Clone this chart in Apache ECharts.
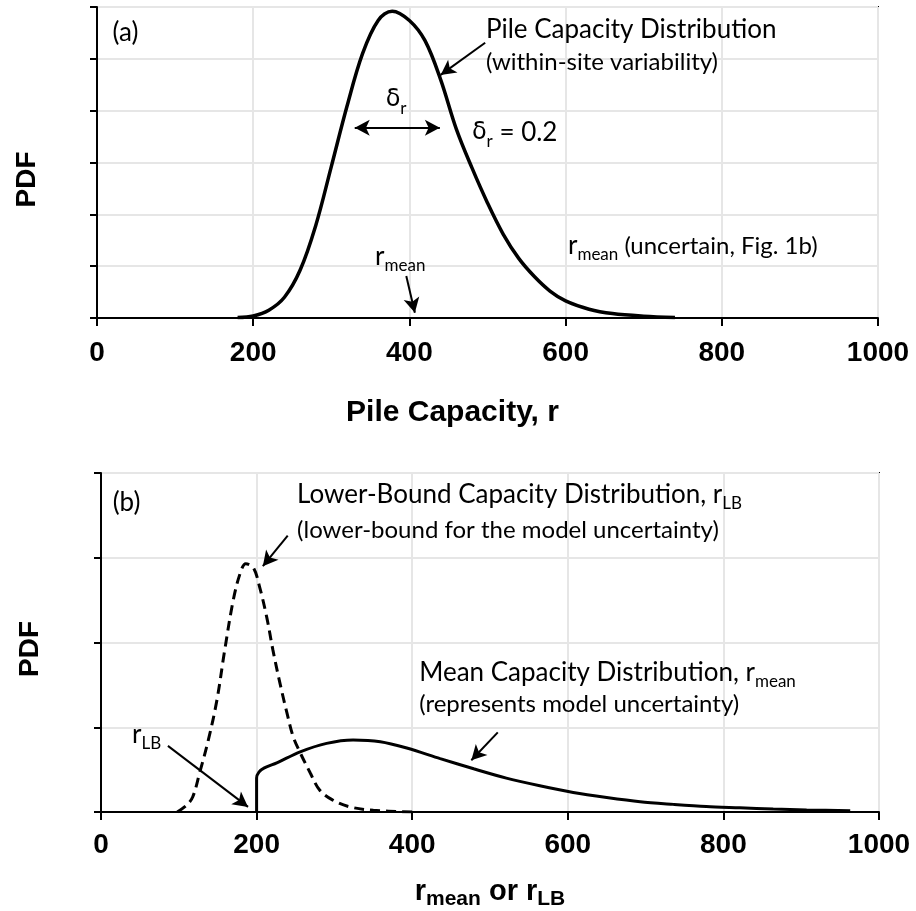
<!DOCTYPE html>
<html>
<head>
<meta charset="utf-8">
<script src="https://cdn.jsdelivr.net/npm/echarts@6/dist/echarts.min.js"></script>
<style>
  html, body { margin: 0; padding: 0; background: #fff; }
  #chart { width: 916px; height: 911px; }
</style>
</head>
<body>
<div id="chart"></div>
<script>
// Axis ticks shared by both panels
const xTickValues = [0, 200, 400, 600, 800, 1000];

// (a) Pile capacity distribution, within-site variability (delta_r = 0.2)
const capR   = [180, 200, 220, 240, 260, 280, 300, 320, 340, 360, 378, 400, 420, 440, 460, 480, 500, 520, 540, 560, 580, 600, 630, 660, 700, 740];
const capPdf = [0.01, 0.04, 0.15, 0.40, 0.92, 1.78, 2.92, 4.08, 5.10, 5.74, 5.92, 5.74, 5.35, 4.60, 3.65, 2.90, 2.22, 1.62, 1.15, 0.80, 0.52, 0.33, 0.17, 0.085, 0.035, 0.01];

// (b) Lower-bound capacity distribution, r_LB
const lbR   = [98, 110, 118, 127, 138, 149, 159, 170, 179, 186, 196, 204, 213, 221, 230, 239, 247, 256, 269, 281, 298, 320, 350, 400];
const lbPdf = [0.0, 0.08, 0.18, 0.47, 0.85, 1.32, 1.91, 2.50, 2.82, 2.93, 2.88, 2.65, 2.30, 1.91, 1.52, 1.17, 0.89, 0.70, 0.46, 0.26, 0.14, 0.06, 0.02, 0.0];

// (b) Mean capacity distribution, r_mean (truncated at the lower bound)
const meanR   = [200, 200, 203, 210, 226, 256, 290, 324, 359, 393, 436, 479, 521, 564, 607, 650, 693, 736, 778, 821, 864, 907, 963];
const meanPdf = [0.0, 0.40, 0.47, 0.52, 0.58, 0.71, 0.81, 0.85, 0.83, 0.755, 0.63, 0.51, 0.40, 0.31, 0.23, 0.17, 0.12, 0.09, 0.065, 0.05, 0.035, 0.025, 0.015];

const pairs = (xs, ys) => xs.map((x, i) => [x, ys[i]]);

const ANN  = "Lato, 'DejaVu Sans', sans-serif";
const BOLD = "'Liberation Sans', Arial, Helvetica, sans-serif";
const GRID_COLOR = '#e6e6e6';

const richText = {
  t: { fontFamily: ANN, fontSize: 26, color: '#000', lineHeight: 34 },
  p: { fontFamily: ANN, fontSize: 24, color: '#000', lineHeight: 34 },
  g: { fontFamily: "'DejaVu Sans', serif", fontSize: 24, color: '#000', lineHeight: 34 },
  s: { fontFamily: ANN, fontSize: 17, color: '#000', lineHeight: 34, verticalAlign: 'bottom' }
};

function note(coord, text, align) {
  return {
    coord: coord,
    symbol: 'circle',
    symbolSize: 1,
    itemStyle: { color: 'rgba(0,0,0,0)' },
    label: {
      show: true,
      position: 'inside',
      align: align || 'left',
      verticalAlign: 'middle',
      formatter: text,
      rich: richText
    }
  };
}

function arrow(from, to, both) {
  return [
    { coord: from, symbol: both ? 'arrow' : 'none', symbolSize: [12, 15] },
    { coord: to, symbol: 'arrow', symbolSize: [12, 15] }
  ];
}

function xAxisFor(gridIndex, name, nameGap, namePad, labelMargin, nameRich) {
  return {
    gridIndex: gridIndex,
    type: 'value',
    min: xTickValues[0],
    max: xTickValues[xTickValues.length - 1],
    interval: xTickValues[1] - xTickValues[0],
    axisLine: { show: true, onZero: false, lineStyle: { color: '#000', width: 2 } },
    axisTick: { show: true, inside: false, length: 8, lineStyle: { color: '#000', width: 2 } },
    axisLabel: {
      show: true, color: '#000', fontFamily: BOLD, fontWeight: 'bold', fontSize: 28, margin: labelMargin,
      formatter: v => String(v)
    },
    splitLine: { show: true, lineStyle: { color: GRID_COLOR, width: 2 } },
    name: name,
    nameLocation: 'middle',
    nameGap: nameGap,
    nameTextStyle: Object.assign({ color: '#000', fontFamily: BOLD, fontWeight: 'bold', fontSize: 30, padding: namePad }, nameRich ? { rich: nameRich } : {})
  };
}

function yAxisFor(gridIndex, max, nameGap, namePad) {
  return {
    gridIndex: gridIndex,
    type: 'value',
    min: 0,
    max: max,
    interval: 1,
    axisLine: { show: true, onZero: false, lineStyle: { color: '#000', width: 2 } },
    axisTick: { show: true, inside: false, length: 7, lineStyle: { color: '#000', width: 2 } },
    axisLabel: { show: false },
    splitLine: { show: true, lineStyle: { color: GRID_COLOR, width: 2 } },
    name: 'PDF',
    nameLocation: 'middle',
    nameRotate: 90,
    nameGap: nameGap,
    nameTextStyle: { color: '#000', fontFamily: BOLD, fontWeight: 'bold', fontSize: 28, padding: namePad }
  };
}

const axisNameRich = {
  a: { fontFamily: BOLD, fontWeight: 'bold', fontSize: 29, color: '#000', lineHeight: 36 },
  b: { fontFamily: BOLD, fontWeight: 'bold', fontSize: 21, color: '#000', lineHeight: 36, verticalAlign: 'bottom' }
};

const option = {
  animation: false,
  backgroundColor: '#fff',
  grid: [
    { left: 97, top: 7, width: 781, height: 311, show: true, borderColor: '#000', borderWidth: 2 },
    { left: 101, top: 473, width: 778, height: 339, show: true, borderColor: '#000', borderWidth: 2 }
  ],
  xAxis: [
    xAxisFor(0, 'Pile Capacity, r', 80, [0, 70, 0, 0], 21),
    xAxisFor(1, '{a|r}{b|mean}{a| or r}{b|LB}', 62, [0, 0, 0, 0], 19, axisNameRich)
  ],
  yAxis: [
    yAxisFor(0, 6, 56, [0, 34, 0, 0]),
    yAxisFor(1, 4, 57, [0, 13, 0, 0])
  ],
  series: [
    {
      name: 'Pile Capacity Distribution',
      type: 'line',
      xAxisIndex: 0, yAxisIndex: 0,
      data: pairs(capR, capPdf),
      smooth: 0.35,
      showSymbol: false,
      lineStyle: { color: '#000', width: 3.5 },
      markPoint: {
        silent: true,
        data: [
          note([20, 5.50], '{t|(a)}'),
          note([498, 5.56], '{t|Pile Capacity Distribution}'),
          note([498, 4.93], '{p|(within-site variability)}'),
          note([383, 4.21], '{g|δ}{s|r}', 'center'),
          note([480, 3.57], '{g|δ}{s|r}{t| = 0.2}'),
          note([603, 1.39], '{t|r}{s|mean}{p| (uncertain, Fig. 1b)}'),
          note([356, 1.18], '{t|r}{s|mean}')
        ]
      },
      markLine: {
        silent: true,
        label: { show: false },
        lineStyle: { color: '#000', width: 2, type: 'solid' },
        data: [
          arrow([497, 5.31], [440, 4.69]),
          arrow([330, 3.67], [439, 3.67], true),
          arrow([396, 0.81], [407, 0.10])
        ]
      }
    },
    {
      name: 'Lower-Bound Capacity Distribution',
      type: 'line',
      xAxisIndex: 1, yAxisIndex: 1,
      data: pairs(lbR, lbPdf),
      smooth: 0.35,
      showSymbol: false,
      lineStyle: { color: '#000', width: 3, type: [10, 6] }
    },
    {
      name: 'Mean Capacity Distribution',
      type: 'line',
      xAxisIndex: 1, yAxisIndex: 1,
      data: pairs(meanR, meanPdf),
      smooth: 0.3,
      showSymbol: false,
      lineStyle: { color: '#000', width: 3 },
      markPoint: {
        silent: true,
        data: [
          note([15, 3.65], '{t|(b)}'),
          note([252, 3.74], '{t|Lower-Bound Capacity Distribution, r}{s|LB}'),
          note([252, 3.33], '{p|(lower-bound for the model uncertainty)}'),
          note([409, 1.64], '{t|Mean Capacity Distribution, r}{s|mean}'),
          note([409, 1.27], '{p|(represents model uncertainty)}'),
          note([40, 0.91], '{t|r}{s|LB}')
        ]
      },
      markLine: {
        silent: true,
        label: { show: false },
        lineStyle: { color: '#000', width: 2, type: 'solid' },
        data: [
          arrow([240, 3.26], [208, 2.90]),
          arrow([510, 0.94], [476, 0.61]),
          arrow([86, 0.78], [189, 0.06])
        ]
      }
    }
  ]
};

const chart = echarts.init(document.getElementById('chart'), null, { renderer: 'canvas' });
chart.setOption(option);
</script>
</body>
</html>
